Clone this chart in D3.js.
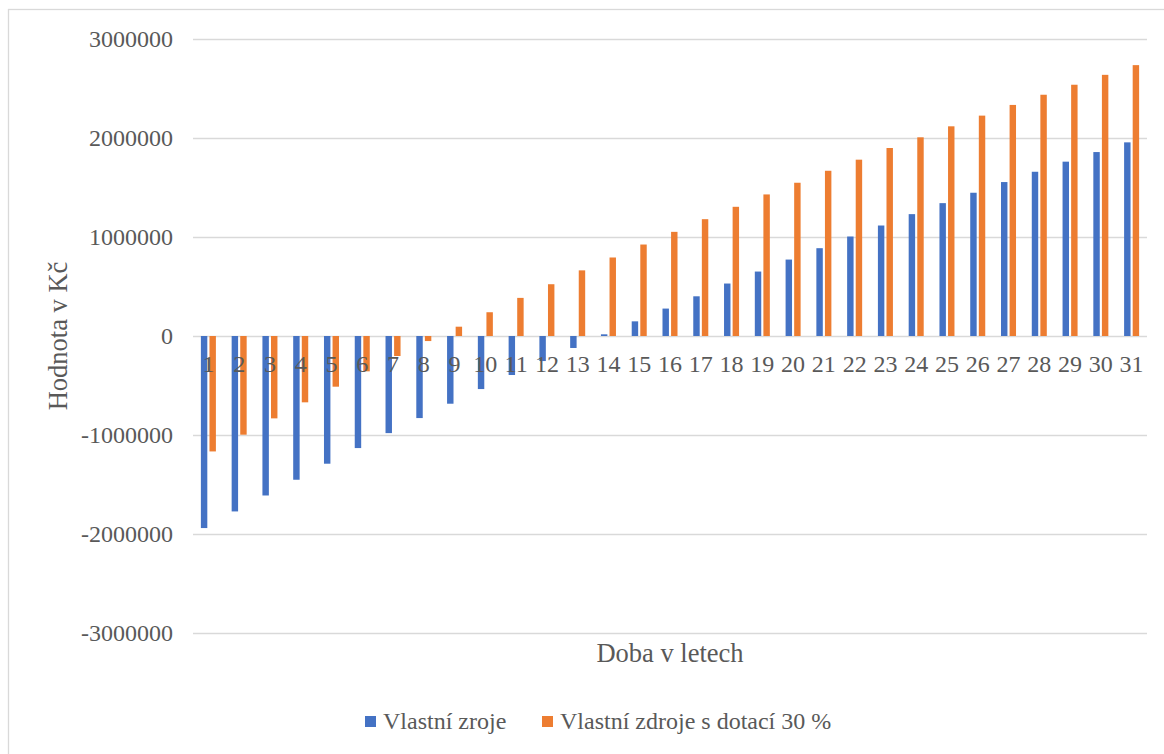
<!DOCTYPE html>
<html>
<head>
<meta charset="utf-8">
<script src="https://cdn.jsdelivr.net/npm/d3@7"></script>
<style>
    body { margin: 0; background: #fff; }
    #chart-area { width: 1164px; height: 754px; }
    svg text { font-family: "Liberation Serif", serif; fill: #595959; }
</style>
</head>
<body>
<div id="chart-area"></div>
<script>
// years on the x axis
const years = d3.range(1, 32).map(String);

// Vlastní zroje (Kč)
const ownFunds = [-1940000, -1772000, -1611000, -1452000, -1290000, -1132000, -981000, -829000,
    -684000, -536000, -394000, -253000, -121000, 17000, 148000, 277000, 401000, 530000, 651000,
    772000, 887000, 1005000, 1116000, 1231000, 1342000, 1447000, 1555000, 1659000, 1761000,
    1858000, 1956000];

// Vlastní zdroje s dotací 30 % (Kč)
const subsidised = [-1166000, -997000, -832000, -670000, -512000, -357000, -202000, -51000,
    94000, 240000, 385000, 523000, 663000, 793000, 924000, 1052000, 1180000, 1305000, 1430000,
    1548000, 1669000, 1781000, 1899000, 2007000, 2118000, 2226000, 2334000, 2437000, 2538000,
    2638000, 2736000];

const yTicks = [-3000000, -2000000, -1000000, 0, 1000000, 2000000, 3000000];

const seriesNames = ["Vlastní zroje", "Vlastní zdroje s dotací 30 %"];
const seriesColors = ["#4472C4", "#ED7D31"];

const serif = '"Liberation Serif", serif';

class BarVis {
    constructor(parentElement) {
        this.parentElement = parentElement;
        this.data = years.map((y, i) => ({year: y, values: [ownFunds[i], subsidised[i]]}));
        this.initVis();
    }

    initVis() {
        let vis = this;

        vis.plot = {left: 193, right: 1147, top: 39, bottom: 633};

        vis.svg = d3.select("#" + vis.parentElement).append("svg")
            .attr("width", 1164)
            .attr("height", 754)
            .attr("font-family", serif);

        // chart border (runs off the right and bottom edge)
        vis.svg.append("rect")
            .attr("x", 8.5).attr("y", 9.5)
            .attr("width", 1300).attr("height", 900)
            .attr("fill", "none")
            .attr("stroke", "#D9D9D9")
            .attr("stroke-width", 1.3);

        vis.x0 = d3.scaleBand()
            .domain(years)
            .range([vis.plot.left, vis.plot.right])
            .paddingInner(0.512)
            .paddingOuter(0.256);

        vis.x1 = d3.scaleBand()
            .domain([0, 1])
            .range([0, vis.x0.bandwidth()])
            .paddingInner(0.25);

        vis.y = d3.scaleLinear()
            .domain([-3000000, 3000000])
            .range([vis.plot.bottom, vis.plot.top]);

        // gridlines + y labels
        let yAxis = d3.axisLeft(vis.y)
            .tickValues(yTicks)
            .tickSize(-(vis.plot.right - vis.plot.left))
            .tickPadding(20)
            .tickFormat(d => String(d));

        vis.svg.append("g")
            .attr("class", "y-axis")
            .attr("transform", `translate(${vis.plot.left},0)`)
            .call(yAxis)
            .attr("font-family", serif)
            .attr("font-size", 24)
            .call(g => g.select(".domain").remove())
            .call(g => g.selectAll(".tick line").attr("stroke", "#D9D9D9").attr("stroke-width", 1.4))
            .call(g => g.selectAll(".tick text").attr("fill", "#595959"));

        vis.updateVis();
    }

    updateVis() {
        let vis = this;

        let groups = vis.svg.append("g").attr("class", "bars")
            .selectAll("g")
            .data(vis.data)
            .enter().append("g")
            .attr("transform", d => `translate(${vis.x0(d.year)},0)`);

        groups.selectAll("rect")
            .data(d => d.values.map((v, i) => ({i: i, v: v})))
            .enter().append("rect")
            .attr("x", d => vis.x1(d.i))
            .attr("width", vis.x1.bandwidth())
            .attr("y", d => vis.y(Math.max(0, d.v)))
            .attr("height", d => Math.abs(vis.y(d.v) - vis.y(0)))
            .attr("fill", d => seriesColors[d.i]);

        // category labels sit just under the zero line
        vis.svg.append("g")
            .selectAll("text")
            .data(years)
            .enter().append("text")
            .attr("x", d => vis.x0(d) + vis.x0.bandwidth() / 2)
            .attr("y", vis.y(0) + 36)
            .attr("text-anchor", "middle")
            .attr("font-size", 24)
            .text(d => d);

        // axis titles
        vis.svg.append("text")
            .attr("x", (vis.plot.left + vis.plot.right) / 2)
            .attr("y", 662)
            .attr("text-anchor", "middle")
            .attr("font-size", 26.5)
            .text("Doba v letech");

        vis.svg.append("text")
            .attr("transform", `translate(67,${(vis.plot.top + vis.plot.bottom) / 2}) rotate(-90)`)
            .attr("text-anchor", "middle")
            .attr("font-size", 26.5)
            .text("Hodnota v Kč");

        // legend
        let legendX = [365, 542];
        let legend = vis.svg.append("g").attr("class", "legend")
            .selectAll("g")
            .data(seriesNames)
            .enter().append("g")
            .attr("transform", (d, i) => `translate(${legendX[i]},0)`);

        legend.append("rect")
            .attr("x", 0).attr("y", 716)
            .attr("width", 11).attr("height", 11)
            .attr("fill", (d, i) => seriesColors[i]);

        legend.append("text")
            .attr("x", 18)
            .attr("y", 729)
            .attr("font-size", 24)
            .text(d => d);
    }
}

new BarVis("chart-area");
</script>
</body>
</html>
